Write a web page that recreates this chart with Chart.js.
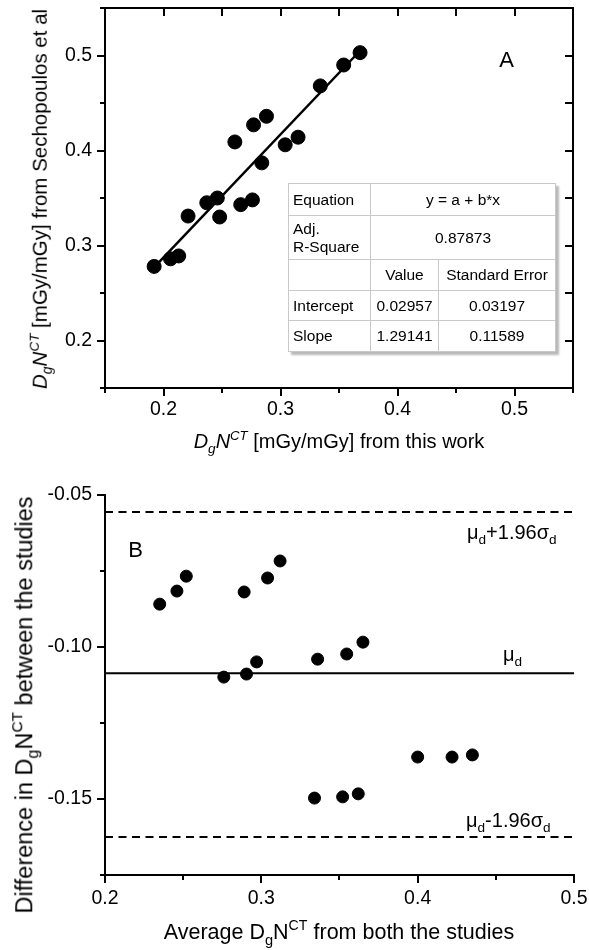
<!DOCTYPE html>
<html>
<head>
<meta charset="utf-8">
<script src="https://cdn.jsdelivr.net/npm/chart.js@4.4.0/dist/chart.umd.min.js"></script>
<style>
html,body{margin:0;padding:0;background:#fff;}
#wrap{position:relative;width:589px;height:950px;overflow:hidden;font-family:"Liberation Sans",Arial,sans-serif;color:#000;}
canvas{position:absolute;left:0;}
#cA{top:0;}
#cB{top:470px;}
.t{position:absolute;white-space:nowrap;line-height:1;}
.c{transform:translate(-50%,-50%);}
.r{transform:translate(-50%,-50%) rotate(-90deg);}
.sb{font-size:0.68em;position:relative;top:0.38em;}
.sp{font-size:0.66em;position:relative;top:-0.62em;}
#fit{position:absolute;left:288px;top:183px;width:267px;height:168px;border-collapse:collapse;table-layout:fixed;
  font-size:15.5px;background:#fff;border:1px solid #8a8a8a;box-shadow:3px 3px 2px rgba(0,0,0,0.28);}
#fit td{border:1px solid #c9c9c9;padding:0 4px;text-align:center;white-space:pre-line;line-height:18px;}
#fit td.l{text-align:left;}
</style>
</head>
<body>
<div id="wrap">
<canvas id="cA" width="589" height="470"></canvas>
<canvas id="cB" width="589" height="480"></canvas>

<table id="fit"><colgroup><col style="width:82px"><col style="width:68px"><col style="width:117px"></colgroup><tbody id="fitBody"></tbody></table>

<div class="t c" style="left:506.5px;top:59.5px;font-size:22px;">A</div>
<div class="t c" style="left:135.5px;top:550px;font-size:22px;">B</div>

<div class="t c" style="left:339px;top:441px;font-size:20px;"><i>D</i><span class="sb"><i>g</i></span><i>N</i><span class="sp"><i>CT</i></span> [mGy/mGy] from this work</div>
<div class="t r" style="left:40px;top:199px;font-size:20.5px;"><i>D</i><span class="sb"><i>g</i></span><i>N</i><span class="sp"><i>CT</i></span> [mGy/mGy] from Sechopoulos et al</div>

<div class="t c" style="left:339px;top:933px;font-size:21.5px;">Average D<span class="sb">g</span>N<span class="sp">CT</span> from both the studies</div>
<div class="t r" style="left:25px;top:705px;font-size:23.5px;">Difference in D<span class="sb">g</span>N<span class="sp">CT</span> between the studies</div>

<div class="t" style="left:467px;top:522px;font-size:20px;">μ<span class="sb">d</span>+1.96σ<span class="sb">d</span></div>
<div class="t" style="left:503px;top:644px;font-size:20px;">μ<span class="sb">d</span></div>
<div class="t" style="left:466px;top:810px;font-size:20px;">μ<span class="sb">d</span>-1.96σ<span class="sb">d</span></div>
</div>

<script>
// ---------- Panel A data ----------
const thisWork    = [0.192, 0.206, 0.213, 0.221, 0.237, 0.246, 0.248, 0.261, 0.266, 0.276, 0.277, 0.284, 0.288, 0.304, 0.315, 0.334, 0.354, 0.368];
const sechopoulos = [0.278, 0.286, 0.289, 0.331, 0.345, 0.350, 0.330, 0.409, 0.343, 0.348, 0.427, 0.387, 0.436, 0.406, 0.414, 0.468, 0.490, 0.503];
const fitLineX = [0.195, 0.368];
const fitLineY = [0.281, 0.505];
const tickLabelsA = ['0.2', '0.3', '0.4', '0.5'];
const fitTable = [
  ['Equation', 'y = a + b*x'],
  ['Adj.\nR-Square', '0.87873'],
  ['', 'Value', 'Standard Error'],
  ['Intercept', '0.02957', '0.03197'],
  ['Slope', '1.29141', '0.11589']
];
const fitRowHeights = [32, 44, 31, 30, 31];

// ---------- Panel B data ----------
const avgBoth  = [0.235, 0.246, 0.252, 0.289, 0.304, 0.312, 0.276, 0.2905, 0.297, 0.336, 0.3546, 0.365, 0.334, 0.352, 0.362, 0.400, 0.422, 0.435];
const diffBoth = [-0.0859, -0.0816, -0.0767, -0.0819, -0.0773, -0.0717, -0.1099, -0.1089, -0.1049, -0.1040, -0.1023, -0.0984, -0.1497, -0.1493, -0.1483, -0.1362, -0.1362, -0.1355];
const meanDiff = -0.1086;
const upperLimit = -0.0556;
const lowerLimit = -0.1625;
const refLineX = [0.2, 0.5];
const xTickLabelsB = ['0.2', '0.3', '0.4', '0.5'];
const yTickLabelsB = ['-0.05', '-0.10', '-0.15'];

// ---------- table ----------
const tb = document.getElementById('fitBody');
fitTable.forEach((row, ri) => {
  const tr = document.createElement('tr');
  tr.style.height = fitRowHeights[ri] + 'px';
  row.forEach((cell, ci) => {
    const td = document.createElement('td');
    td.textContent = cell;
    if (ci === 0) td.className = 'l';
    if (row.length === 2 && ci === 1) td.colSpan = 2;
    tr.appendChild(td);
  });
  tb.appendChild(tr);
});

// ---------- helpers ----------
const FONT = {family: '"Liberation Sans", Arial, sans-serif', size: 19.5};
function pickLabel(list) {
  return function(v) {
    const s = list.find(l => Math.abs(parseFloat(l) - v) < 1e-6);
    return s || '';
  };
}
function zeroPad(s) { s.paddingLeft = 0; s.paddingRight = 0; s.paddingTop = 0; s.paddingBottom = 0; }

const framePlugin = {
  id: 'frame',
  afterDraw(chart, args, opts) {
    const ctx = chart.ctx, a = chart.chartArea, x = chart.scales.x, y = chart.scales.y;
    const MAJ = 8, MIN = 5, IN = 8;
    ctx.save();
    ctx.strokeStyle = '#000';
    ctx.lineCap = 'square';
    ctx.lineWidth = 2;
    ctx.beginPath();
    if (opts.box) {
      ctx.rect(a.left, a.top, a.right - a.left, a.bottom - a.top);
    } else {
      ctx.moveTo(a.left, a.top); ctx.lineTo(a.left, a.bottom); ctx.lineTo(a.right, a.bottom);
    }
    ctx.stroke();
    ctx.lineCap = 'butt';
    ctx.lineWidth = 2;
    ctx.beginPath();
    x.ticks.forEach(t => {
      const px = Math.round(x.getPixelForValue(t.value));
      const len = t.label !== '' ? MAJ : MIN;
      ctx.moveTo(px, a.bottom); ctx.lineTo(px, a.bottom + len);
      if (opts.box) { ctx.moveTo(px, a.top); ctx.lineTo(px, a.top + IN); }
    });
    y.ticks.forEach(t => {
      const py = Math.round(y.getPixelForValue(t.value));
      const len = t.label !== '' ? MAJ : MIN;
      ctx.moveTo(a.left, py); ctx.lineTo(a.left - len, py);
      if (opts.box) { ctx.moveTo(a.right, py); ctx.lineTo(a.right - IN, py); }
    });
    ctx.stroke();
    ctx.restore();
  }
};

// ---------- Panel A ----------
new Chart(document.getElementById('cA'), {
  type: 'scatter',
  data: {
    datasets: [
      {
        type: 'line',
        data: fitLineX.map((v, i) => ({x: v, y: fitLineY[i]})),
        borderColor: '#000', borderWidth: 2.5, pointRadius: 0, fill: false, order: 2
      },
      {
        data: thisWork.map((v, i) => ({x: v, y: sechopoulos[i]})),
        backgroundColor: '#000', borderColor: '#000', pointRadius: 7, pointHoverRadius: 7, order: 1
      }
    ]
  },
  options: {
    responsive: false, animation: false, devicePixelRatio: 1,
    layout: {padding: {left: 0, right: 16, top: 7, bottom: 0}},
    plugins: {legend: {display: false}, tooltip: {enabled: false}, frame: {box: true}},
    scales: {
      x: {
        type: 'linear', position: 'bottom', min: 0.15, max: 0.55,
        afterFit(s) { s.height = 82; zeroPad(s); },
        grid: {display: false, drawTicks: false}, border: {display: false},
        ticks: {stepSize: 0.05, padding: 10, maxRotation: 0, autoSkip: false, font: FONT, color: '#000', callback: pickLabel(tickLabelsA)}
      },
      y: {
        type: 'linear', position: 'left', min: 0.15, max: 0.55,
        afterFit(s) { s.width = 105; zeroPad(s); },
        grid: {display: false, drawTicks: false}, border: {display: false},
        ticks: {stepSize: 0.05, padding: 13, autoSkip: false, font: FONT, color: '#000', callback: pickLabel(tickLabelsA)}
      }
    }
  },
  plugins: [framePlugin]
});

// ---------- Panel B ----------
new Chart(document.getElementById('cB'), {
  type: 'scatter',
  data: {
    datasets: [
      {
        type: 'line',
        data: refLineX.map(v => ({x: v, y: upperLimit})),
        borderColor: '#000', borderWidth: 2, borderDash: [8, 5.5], pointRadius: 0, fill: false, order: 3
      },
      {
        type: 'line',
        data: refLineX.map(v => ({x: v, y: meanDiff})),
        borderColor: '#000', borderWidth: 2, pointRadius: 0, fill: false, order: 3
      },
      {
        type: 'line',
        data: refLineX.map(v => ({x: v, y: lowerLimit})),
        borderColor: '#000', borderWidth: 2, borderDash: [8, 5.5], pointRadius: 0, fill: false, order: 3
      },
      {
        data: avgBoth.map((v, i) => ({x: v, y: diffBoth[i]})),
        backgroundColor: '#000', borderColor: '#000', pointRadius: 6, pointHoverRadius: 6, order: 1
      }
    ]
  },
  options: {
    responsive: false, animation: false, devicePixelRatio: 1,
    layout: {padding: {left: 0, right: 15, top: 25, bottom: 0}},
    plugins: {legend: {display: false}, tooltip: {enabled: false}, frame: {box: false}},
    scales: {
      x: {
        type: 'linear', position: 'bottom', min: 0.2, max: 0.5,
        afterFit(s) { s.height = 75; zeroPad(s); },
        grid: {display: false, drawTicks: false}, border: {display: false},
        ticks: {stepSize: 0.05, padding: 12, maxRotation: 0, autoSkip: false, font: FONT, color: '#000', callback: pickLabel(xTickLabelsB)}
      },
      y: {
        type: 'linear', position: 'left', min: -0.175, max: -0.05,
        afterFit(s) { s.width = 105; zeroPad(s); },
        grid: {display: false, drawTicks: false}, border: {display: false},
        ticks: {stepSize: 0.025, padding: 13, autoSkip: false, font: FONT, color: '#000', callback: pickLabel(yTickLabelsB)}
      }
    }
  },
  plugins: [framePlugin]
});
</script>
</body>
</html>
